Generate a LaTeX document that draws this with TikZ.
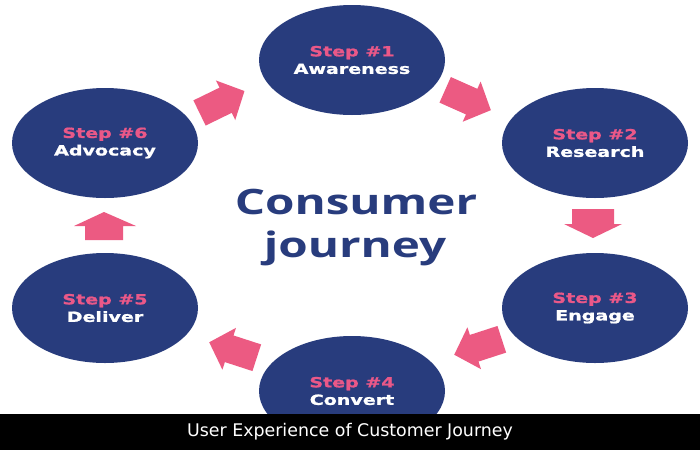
\documentclass[tikz,border=0pt]{standalone}
\usepackage{fontspec}
\usetikzlibrary{shapes.geometric}
\setmainfont{DejaVu Sans}
\newfontfamily\stepfont[FakeStretch=1.36,FakeBold=1.2]{DejaVu Sans Bold}
\newfontfamily\bigfont[FakeStretch=1.36]{Open Sans}
\definecolor{navy}{RGB}{40,60,125}
\definecolor{stpink}{RGB}{234,88,136}
\definecolor{arpink}{RGB}{236,90,130}
\tikzset{
  stepnode/.style={ellipse, fill=navy, minimum width=186pt, minimum height=110pt, inner sep=0pt,
    align=center, font=\stepfont\fontsize{14}{17.5}\selectfont},
  bigtext/.style={text=navy, anchor=base, inner sep=0pt, font=\bigfont\bfseries\fontsize{35}{40}\selectfont},
  blockarrow/.style={fill=arpink},
}
\newcommand{\steplabel}[2]{\textcolor{stpink}{#1}\\\textcolor{white}{#2}}
\begin{document}
\begin{tikzpicture}[x=1pt,y=-1pt]
\useasboundingbox (0,0) rectangle (700,450);
\fill[white] (0,0) rectangle (700,450);
% steps
\node[stepnode] (s1) at (352,60) {\steplabel{Step \#1}{Awareness}};
\node[stepnode] (s2) at (595,143) {\steplabel{Step \#2}{Research}};
\node[stepnode] (s3) at (595,308) {\steplabel{Step \#3}{Engage}};
\node[stepnode] (s4) at (352,391) {\steplabel{Step \#4}{Convert}};
\node[stepnode] (s5) at (105,308) {\steplabel{Step \#5}{Deliver}};
\node[stepnode] (s6) at (105,143) {\steplabel{Step \#6}{Advocacy}};
% centre title
\node[bigtext] (t1) at (356,214) {Consumer};
\node[bigtext] (t2) at (355,257) {journey};
% diagonal block arrows (local: pointing along +x)
\foreach \cx/\cy/\ang in {222/102/26, 468/100/-24, 478/347/198, 233/350/162}{
  \fill[blockarrow, shift={(\cx,\cy)}, rotate=\ang]
    (-25,-14) -- (4,-14) -- (4,-22) -- (25,0) -- (4,22) -- (4,14) -- (-25,14) -- cycle;
}
% vertical block arrows
\fill[blockarrow] (572,209) -- (614,209) -- (614,224) -- (622,224) -- (593,238) -- (564,224) -- (572,224) -- cycle;
\fill[blockarrow] (85,240) -- (123,240) -- (123,226) -- (136,226) -- (104,212) -- (74,226) -- (85,226) -- cycle;
% caption bar
\fill[black] (0,414) rectangle (700,450);
\node[text=white, font=\fontsize{17.4}{20}\selectfont, inner sep=0pt] (cap) at (350,432) {User Experience of Customer Journey};
\end{tikzpicture}
\end{document}
